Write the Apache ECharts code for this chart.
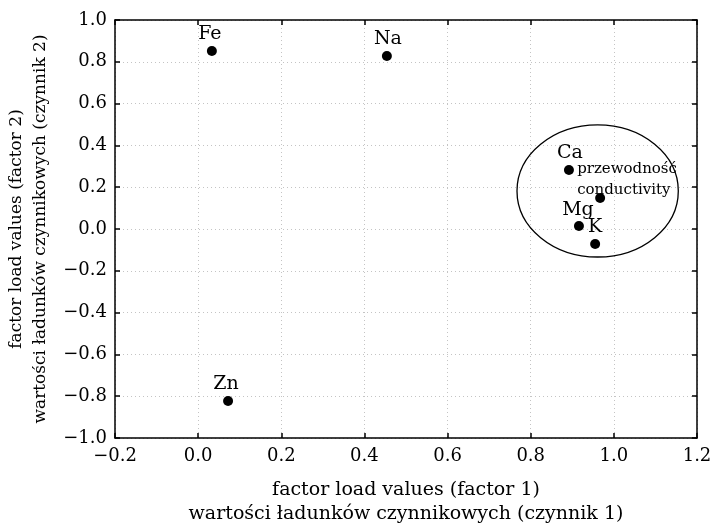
<!DOCTYPE html>
<html>
<head>
<meta charset="utf-8">
<script src="https://cdn.jsdelivr.net/npm/echarts@6/dist/echarts.min.js"></script>
<style>
  html, body { margin: 0; padding: 0; background: #fff; }
  #chart { width: 716px; height: 524px; }
</style>
</head>
<body>
<div id="chart"></div>
<script>
// factor loadings: factor 1 (x) and factor 2 (y)
const names = ["Fe", "Na", "Zn", "Ca", "przewodność\nconductivity", "Mg", "K"];
const factor1 = [0.033, 0.454, 0.072, 0.892, 0.967, 0.916, 0.955];
const factor2 = [0.852, 0.828, -0.823, 0.282, 0.148, 0.014, -0.072];

// ellipse around the cluster: centre x, centre y, half width, half height
const ellipse = [0.961, 0.182, 0.194, 0.316];

const xTicks = { min: -0.2, max: 1.2, interval: 0.2 };
const yTicks = { min: -1.0, max: 1.0, interval: 0.2 };

const font = "'DejaVu Serif', 'Liberation Serif', serif";

// where each label sits relative to its point
const labelStyle = {
  "Fe": { offset: [-2, 0] },
  "Na": { offset: [1, 0] },
  "Zn": { offset: [-2, 0] },
  "Ca": { offset: [1, 0] },
  "przewodność\nconductivity": { position: [-18, -34], fontSize: 15, lineHeight: 21, align: "left", verticalAlign: "top" },
  "Mg": { offset: [-1, 0] },
  "K": { offset: [0, 0] }
};

const points = names.map((n, i) => {
  const s = labelStyle[n];
  return {
    name: n,
    value: [factor1[i], factor2[i]],
    label: {
      position: s.position || "top",
      offset: s.offset,
      fontSize: s.fontSize || 19,
      lineHeight: s.lineHeight,
      align: s.align,
      verticalAlign: s.verticalAlign
    }
  };
});

const fmt = v => v.toFixed(1).replace("-", "\u2212");

const chart = echarts.init(document.getElementById("chart"));

const axisCommon = {
  type: "value",
  axisLine: { show: true, onZero: false, lineStyle: { color: "#000", width: 1.5 } },
  axisTick: { show: true, inside: true, length: 5, lineStyle: { color: "#000", width: 1.5 } },
  splitLine: { show: false }
};

const option = {
  animation: false,
  backgroundColor: "#fff",
  textStyle: { fontFamily: font },
  grid: { left: 115, right: 19, top: 20, bottom: 86, containLabel: false, outerBoundsMode: "none" },
  xAxis: [
    Object.assign({}, axisCommon, xTicks, {
      position: "bottom",
      name: "factor load values (factor 1)\nwartości ładunków czynnikowych (czynnik 1)",
      nameLocation: "middle",
      nameGap: 40,
      nameTextStyle: { fontFamily: font, fontSize: 19, color: "#000", lineHeight: 24 },
      axisLabel: { formatter: fmt, fontFamily: font, fontSize: 18, color: "#000", margin: 9 },
      splitLine: { show: true, lineStyle: { color: "#c4c4c4", type: [1, 3], width: 1 } }
    }),
    Object.assign({}, axisCommon, xTicks, {
      position: "top",
      axisLabel: { show: false }
    })
  ],
  yAxis: [
    Object.assign({}, axisCommon, yTicks, {
      position: "left",
      name: "factor load values (factor 2)\nwartości ładunków czynnikowych (czynnik 2)",
      nameLocation: "middle",
      nameRotate: 90,
      nameGap: 62,
      nameTextStyle: { fontFamily: font, fontSize: 17, color: "#000", lineHeight: 24 },
      axisLabel: { formatter: fmt, fontFamily: font, fontSize: 18, color: "#000", margin: 8 },
      splitLine: { show: true, lineStyle: { color: "#c4c4c4", type: [1, 3], width: 1 } }
    }),
    Object.assign({}, axisCommon, yTicks, {
      position: "right",
      axisLabel: { show: false }
    })
  ],
  series: [
    {
      type: "scatter",
      symbolSize: 10,
      itemStyle: { color: "#000", opacity: 1 },
      label: {
        show: true,
        formatter: p => p.name,
        fontFamily: font,
        color: "#000",
        distance: 2
      },
      data: points
    },
    {
      type: "custom",
      silent: true,
      data: [ellipse],
      renderItem: (params, api) => {
        const c = api.coord([api.value(0), api.value(1)]);
        const s = api.size([api.value(2), api.value(3)]);
        return {
          type: "ellipse",
          shape: { cx: c[0], cy: c[1], rx: s[0], ry: s[1] },
          style: { fill: "none", stroke: "#000", lineWidth: 1.3 }
        };
      }
    }
  ]
};

chart.setOption(option);
</script>
</body>
</html>
